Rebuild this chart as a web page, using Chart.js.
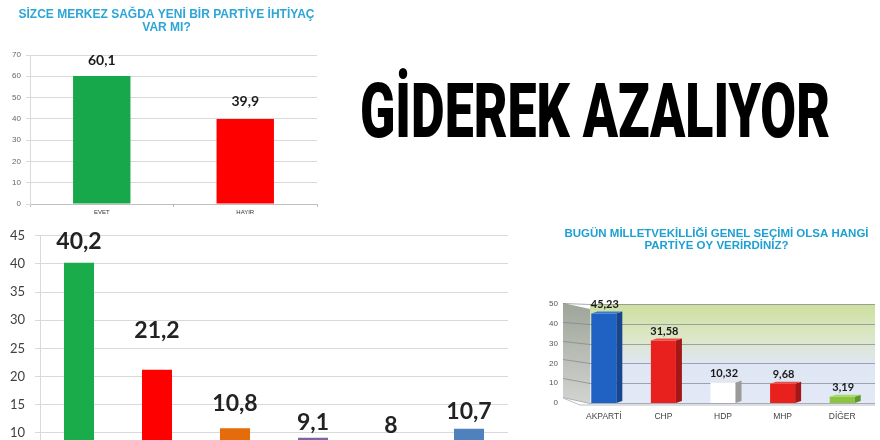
<!DOCTYPE html>
<html><head><meta charset="utf-8">
<script src="https://cdn.jsdelivr.net/npm/chart.js@4.4.1/dist/chart.umd.min.js"></script>
<style>
html,body{margin:0;padding:0;width:880px;height:440px;overflow:hidden;background:#fff;}
.box{position:absolute;}
#headline{position:absolute;left:360px;top:73px;font-family:Roboto,"DejaVu Sans",sans-serif;font-weight:900;font-size:76px;line-height:76px;white-space:nowrap;transform-origin:0 0;color:#000;margin:0;}
</style></head><body>
<div class="box" style="left:0;top:0;width:330px;height:218px;"><canvas id="c1"></canvas></div>
<div class="box" style="left:0;top:218px;width:545px;height:291px;"><canvas id="c2"></canvas></div>
<div class="box" style="left:549px;top:218px;width:331px;height:222px;"><canvas id="c3"></canvas></div>
<h1 id="headline">GİDEREK AZALIYOR</h1>
<script>
// ---- data ----
const needTitle = ['SİZCE MERKEZ SAĞDA YENİ BİR PARTİYE İHTİYAÇ', 'VAR MI?'];
const needCategories = ['EVET', 'HAYIR'];
const needValues = [60.1, 39.9];

const trendCategories = ['AK PARTİ', 'CHP', 'MHP', 'HDP', 'İYİ PARTİ', 'DİĞER'];
const trendValues = [40.2, 21.2, 10.8, 9.1, 8, 10.7];

const voteTitle = ['BUGÜN MİLLETVEKİLLİĞİ GENEL SEÇİMİ OLSA HANGİ', 'PARTİYE OY VERİRDİNİZ?'];
const voteCategories = ['AKPARTİ', 'CHP', 'HDP', 'MHP', 'DİĞER'];
const voteValues = [45.23, 31.58, 10.32, 9.68, 3.19];

// ---- helpers ----
const fmt = v => String(v).replace('.', ',');

const valueLabelPlugin = {
  id: 'valueLabels',
  afterDatasetsDraw(chart, args, opts) {
    const meta = chart.getDatasetMeta(0);
    const ctx = chart.ctx;
    ctx.save();
    ctx.font = 'bold ' + opts.size + 'px ' + opts.family;
    ctx.fillStyle = opts.color;
    ctx.textAlign = 'center';
    ctx.textBaseline = 'middle';
    meta.data.forEach((bar, i) => {
      const v = chart.data.datasets[0].data[i];
      const off = Array.isArray(opts.offset) ? opts.offset[i] : opts.offset;
      ctx.fillText(fmt(v), bar.x + (opts.dx || 0), bar.y - off);
    });
    ctx.restore();
  }
};

// shifts the built-in title block horizontally
const titleShiftPlugin = {
  id: 'titleShift',
  afterLayout(chart, args, opts) {
    const t = chart.titleBlock;
    if (t && opts.dx) { t.left += opts.dx; t.right += opts.dx; }
  }
};

const wallPlugin = {
  id: 'wall3d',
  beforeDraw(chart, args, opts) {
    const ctx = chart.ctx, a = chart.chartArea, y = chart.scales.y;
    const yTop = y.getPixelForValue(y.max), y0 = y.getPixelForValue(0);
    const sl = a.left - 11, sr = a.left + 16, wr = a.right + 3;
    ctx.save();
    // side wall
    let g = ctx.createLinearGradient(0, yTop, 0, y0);
    g.addColorStop(0, '#9fa59a'); g.addColorStop(1, '#d2d4d0');
    ctx.fillStyle = g;
    ctx.beginPath();
    ctx.moveTo(sl, yTop - 1); ctx.lineTo(sr, yTop + 5); ctx.lineTo(sr, y0); ctx.lineTo(sl, y0 - 6); ctx.closePath();
    ctx.fill();
    // back wall
    g = ctx.createLinearGradient(0, yTop, 0, y0);
    g.addColorStop(0, '#cddfa0'); g.addColorStop(0.35, '#dce7c8');
    g.addColorStop(0.6, '#dfe6f3'); g.addColorStop(1, '#e3e9f6');
    ctx.fillStyle = g;
    ctx.fillRect(sr, yTop, wr - sr, y0 - yTop);
    // grid lines
    ctx.strokeStyle = 'rgba(120,128,140,0.65)';
    ctx.lineWidth = 1;
    for (let v = 0; v <= y.max; v += 10) {
      const py = Math.round(y.getPixelForValue(v)) + 0.5;
      const t = (py - yTop) / (y0 - yTop);
      ctx.beginPath();
      ctx.moveTo(sl, py - 1 - 5 * t);
      ctx.lineTo(sr, py);
      ctx.lineTo(wr, py);
      ctx.stroke();
    }
    // floor line
    ctx.strokeStyle = '#b8bcc2';
    ctx.beginPath(); ctx.moveTo(sl, y0 - 5); ctx.lineTo(sr - 10, y0 + 2); ctx.lineTo(wr, y0 + 2); ctx.stroke();
    ctx.restore();
  },
  afterDatasetsDraw(chart, args, opts) {
    const ctx = chart.ctx, meta = chart.getDatasetMeta(0);
    const d = 6;
    ctx.save();
    meta.data.forEach((bar, i) => {
      const w = bar.width, l = bar.x - w / 2, r = bar.x + w / 2, top = bar.y, base = bar.base;
      ctx.fillStyle = opts.sideColors[i];
      ctx.beginPath();
      ctx.moveTo(r, top); ctx.lineTo(r + d, top - 2); ctx.lineTo(r + d, base - 2); ctx.lineTo(r, base); ctx.closePath();
      ctx.fill();
      ctx.fillStyle = opts.topColors[i];
      ctx.beginPath();
      ctx.moveTo(l, top); ctx.lineTo(l + d, top - 2); ctx.lineTo(r + d, top - 2); ctx.lineTo(r, top); ctx.closePath();
      ctx.fill();
    });
    ctx.restore();
  }
};

const base = { responsive: true, maintainAspectRatio: false, animation: false, devicePixelRatio: 1 };

// ---- chart 1: top-left ----
new Chart(document.getElementById('c1'), {
  type: 'bar',
  data: { labels: needCategories, datasets: [{ data: needValues,
    backgroundColor: ['#17a84b', '#fe0000'], barPercentage: 0.4, categoryPercentage: 1 }] },
  options: Object.assign({}, base, {
    layout: { padding: { left: 0, right: 13, top: 0, bottom: 0 } },
    plugins: {
      legend: { display: false }, tooltip: { enabled: false },
      title: { display: true, text: needTitle, color: '#2ba6d6',
        font: { family: 'Liberation Sans', weight: 'bold', size: 12, lineHeight: '13px' },
        padding: { top: 8.5, bottom: 20.5 } },
      titleShift: { dx: 8 },
      valueLabels: { size: 14, family: 'Lato', color: '#1a1a1a', offset: [16, 18] }
    },
    scales: {
      x: { grid: { display: true, drawOnChartArea: false, tickLength: 3, color: '#bfbfbf' },
        border: { color: '#bfbfbf' },
        ticks: { font: { size: 6, family: 'Liberation Sans' }, color: '#333', padding: 2 },
        afterFit(s) { s.height = 14; } },
      y: { min: 0, max: 70,
        ticks: { stepSize: 10, font: { size: 8, family: 'Liberation Sans' }, color: '#666', padding: 5 },
        grid: { color: '#d9d9d9', tickLength: 4 }, border: { color: '#d9d9d9' },
        afterFit(s) { s.width = 30; } }
    }
  }),
  plugins: [titleShiftPlugin, valueLabelPlugin]
});

// ---- chart 2: bottom-left ----
new Chart(document.getElementById('c2'), {
  type: 'bar',
  data: { labels: trendCategories, datasets: [{ data: trendValues,
    backgroundColor: ['#1aab4b', '#fe0000', '#e46c0a', '#8064a2', '#ffc000', '#4f81bd'],
    barPercentage: 0.385, categoryPercentage: 1 }] },
  options: Object.assign({}, base, {
    layout: { padding: { left: 0, right: 37, top: 15, bottom: 0 } },
    plugins: {
      legend: { display: false }, tooltip: { enabled: false },
      valueLabels: { size: 23, family: 'Lato', color: '#222', offset: [21, 39, 25, 15, 18, 17] }
    },
    scales: {
      x: { grid: { display: false }, border: { color: '#d9d9d9' },
        ticks: { font: { size: 11, family: 'Lato' }, color: '#404040' },
        afterFit(s) { s.height = 20; } },
      y: { min: 0, max: 45,
        ticks: { stepSize: 5, font: { size: 13, family: 'Lato' }, color: '#404040', padding: 10 },
        grid: { color: '#d9d9d9', tickLength: 5 }, border: { color: '#d9d9d9' },
        afterFit(s) { s.width = 40; } }
    }
  }),
  plugins: [valueLabelPlugin]
});

// ---- chart 3: bottom-right ----
new Chart(document.getElementById('c3'), {
  type: 'bar',
  data: { labels: voteCategories, datasets: [{ data: voteValues,
    backgroundColor: ['#1f62c4', '#e8211f', '#ffffff', '#e8211f', '#8cc63f'],
    barPercentage: 0.42, categoryPercentage: 1 }] },
  options: Object.assign({}, base, {
    layout: { padding: { left: 0, right: 8, top: 0, bottom: 0 } },
    plugins: {
      legend: { display: false }, tooltip: { enabled: false },
      title: { display: true, text: voteTitle, color: '#1ea0d2',
        font: { family: 'Liberation Sans', weight: 'bold', size: 11.5, lineHeight: '12px' },
        padding: { top: 10, bottom: 52 } },
      titleShift: { dx: 6 },
      valueLabels: { size: 11, family: 'Lato', color: '#1a1a1a', offset: 9, dx: 1 },
      wall3d: { sideColors: ['#17468f', '#a51717', '#9a9a9a', '#a51717', '#5d9a2a'],
                topColors: ['#3a7ad6', '#f04a48', '#e6e6e6', '#f04a48', '#a6d86a'] }
    },
    scales: {
      x: { grid: { display: false, drawTicks: false }, border: { display: false },
        ticks: { font: { size: 8.5, family: 'Liberation Sans' }, color: '#444', padding: 9 },
        afterFit(s) { s.height = 37; } },
      y: { min: 0, max: 50,
        ticks: { stepSize: 10, font: { size: 8, family: 'Liberation Sans' }, color: '#555', padding: 16 },
        grid: { display: false, drawTicks: false }, border: { display: false },
        afterFit(s) { s.width = 25; } }
    }
  }),
  plugins: [titleShiftPlugin, wallPlugin, valueLabelPlugin]
});

// ---- headline fit ----
(function () {
  const h = document.getElementById('headline');
  const w = h.getBoundingClientRect().width;
  h.style.transform = 'scaleX(' + (470 / w) + ')';
})();
</script>
</body></html>
